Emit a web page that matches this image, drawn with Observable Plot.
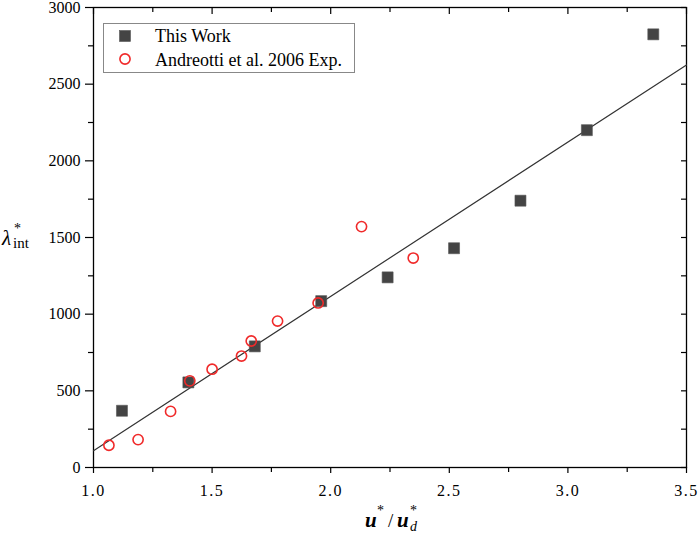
<!DOCTYPE html>
<html><head><meta charset="utf-8">
<script src="https://cdn.jsdelivr.net/npm/d3@7"></script>
<script src="https://cdn.jsdelivr.net/npm/@observablehq/plot@0.6"></script>
<style>
html,body{margin:0;padding:0;background:#fff;overflow:hidden}
#chart svg{display:block}
</style>
</head><body><div id="chart"></div>
<script>
// ---- data ----
const workX = [1.12, 1.40, 1.68, 1.96, 2.24, 2.52, 2.80, 3.08, 3.36];
const workY = [370, 555, 790, 1085, 1240, 1430, 1740, 2200, 2825];
const expX = [1.065, 1.188, 1.325, 1.406, 1.500, 1.624, 1.665, 1.776, 1.947, 2.130, 2.348];
const expY = [145, 182, 366, 565, 641, 727, 825, 955, 1073, 1571, 1366];
const fitX = [1.0, 3.5];
const fitY = [110, 2625];
const xMajor = [1.0, 1.5, 2.0, 2.5, 3.0, 3.5];
const xMinor = [1.25, 1.75, 2.25, 2.75, 3.25];
const yMajor = [0, 500, 1000, 1500, 2000, 2500, 3000];
const yMinor = [250, 750, 1250, 1750, 2250, 2750];
const seriesNames = ["This Work", "Andreotti et al. 2006 Exp."];

const work = workX.map((x, i) => ({x, y: workY[i]}));
const exp = expX.map((x, i) => ({x, y: expY[i]}));
const fit = fitX.map((x, i) => ({x, y: fitY[i]}));

const W = 699, H = 533, mL = 93, mR = 13, mT = 7, mB = 66;
const pw = W - mL - mR, ph = H - mT - mB;
const serif = "'Liberation Serif', 'Times New Roman', serif";

const chart = Plot.plot({
  width: W, height: H,
  marginLeft: mL, marginRight: mR, marginTop: mT, marginBottom: mB,
  style: {fontFamily: serif, fontSize: "16px", color: "#000", background: "#fff", overflow: "visible"},
  x: {domain: [1, 3.5], label: null},
  y: {domain: [0, 3000], label: null},
  marks: [
    Plot.axisX(xMinor, {tickSize: 5, tickFormat: () => "", stroke: "#000", strokeWidth: 1.2}),
    Plot.axisX(xMajor, {tickSize: 6, tickPadding: 11, tickFormat: d => d.toFixed(1), stroke: "#000", strokeWidth: 1.2, fill: "#000"}),
    Plot.axisY(yMinor, {tickSize: 5, tickFormat: () => "", stroke: "#000", strokeWidth: 1.2}),
    Plot.axisY(yMajor, {tickSize: 8, tickPadding: 5, tickFormat: d => String(d), stroke: "#000", strokeWidth: 1.2, fill: "#000"}),
    Plot.ruleX(xMajor, {insetBottom: ph - 7, stroke: "#000", strokeWidth: 1.2}),
    Plot.ruleX(xMinor, {insetBottom: ph - 5, stroke: "#000", strokeWidth: 1.2}),
    Plot.ruleY(yMajor, {insetLeft: pw - 5, stroke: "#000", strokeWidth: 1.2}),
    Plot.ruleY(yMinor, {insetLeft: pw - 5, stroke: "#000", strokeWidth: 1.2}),
    Plot.frame({stroke: "#000", strokeWidth: 1.3}),
    Plot.line(fit, {x: "x", y: "y", stroke: "#333", strokeWidth: 1.2}),
    Plot.dot(work, {x: "x", y: "y", symbol: "square", r: 6.2, fill: "#444", stroke: "#555", strokeWidth: 0.6}),
    Plot.dot(exp, {x: "x", y: "y", symbol: "circle", r: 5.1, fill: "none", stroke: "#f02a2a", strokeWidth: 1.6})
  ]
});
document.getElementById("chart").appendChild(chart);

const svg = d3.select(chart);
svg.selectAll('g[aria-label="x-axis tick label"] text').attr("letter-spacing", "1.5px");

// legend
const lg = svg.append("g").attr("font-family", serif).attr("font-size", 18).attr("text-anchor", "start");
lg.append("rect").attr("x", 103.5).attr("y", 23.5).attr("width", 251).attr("height", 49)
  .attr("fill", "#fff").attr("stroke", "#888").attr("stroke-width", 1);
lg.append("rect").attr("x", 119.5).attr("y", 30.5).attr("width", 11).attr("height", 11)
  .attr("fill", "#444").attr("stroke", "#555").attr("stroke-width", 0.6);
lg.append("circle").attr("cx", 125).attr("cy", 59).attr("r", 5.1)
  .attr("fill", "none").attr("stroke", "#f02a2a").attr("stroke-width", 1.6);
lg.append("text").attr("x", 155).attr("y", 42).text(seriesNames[0]);
lg.append("text").attr("x", 155).attr("y", 65.5).text(seriesNames[1]);

// y label  λ*_int
const yl = svg.append("g").attr("font-family", serif).attr("text-anchor", "start");
yl.append("text").attr("x", 2).attr("y", 245).attr("font-size", 21).attr("font-style", "italic").text("λ");
yl.append("text").attr("x", 14).attr("y", 233).attr("font-size", 14).text("*");
yl.append("text").attr("x", 13).attr("y", 248).attr("font-size", 15).text("int");

// x label  u* / u*_d
const xl = svg.append("g").attr("font-family", serif).attr("text-anchor", "start");
xl.append("text").attr("x", 365).attr("y", 527).attr("font-size", 21).attr("font-style", "italic").attr("font-weight", "bold").text("u");
xl.append("text").attr("x", 377).attr("y", 515).attr("font-size", 14).text("*");
xl.append("text").attr("x", 388).attr("y", 527).attr("font-size", 19).text("/");
xl.append("text").attr("x", 397).attr("y", 527).attr("font-size", 21).attr("font-style", "italic").attr("font-weight", "bold").text("u");
xl.append("text").attr("x", 410).attr("y", 515).attr("font-size", 14).text("*");
xl.append("text").attr("x", 410).attr("y", 531).attr("font-size", 14).attr("font-style", "italic").text("d");
</script>
</body></html>
